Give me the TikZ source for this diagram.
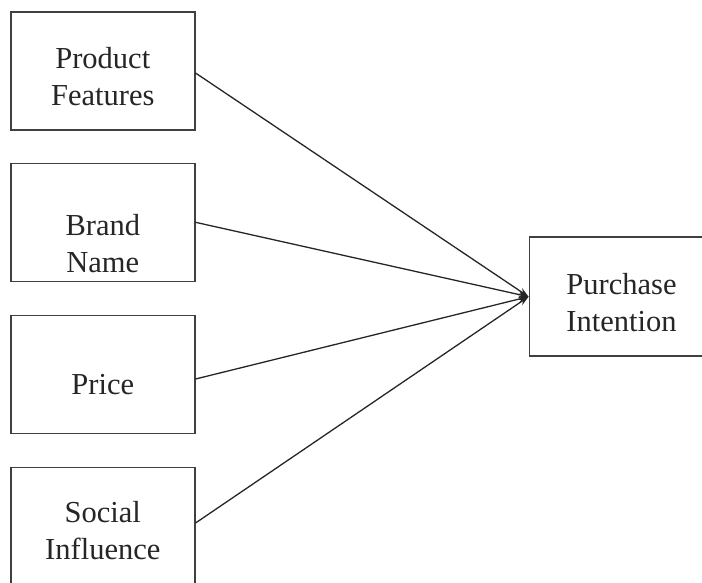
\documentclass[tikz,border=0pt]{standalone}
\usepackage{fontspec}
\setmainfont{Liberation Serif}
\usepackage{tikz}
\usetikzlibrary{arrows.meta}
\tikzstyle{Factor}=[minimum width=184pt, minimum height=118pt, fill=white, line width=1.5pt, draw=black!75, shape=rectangle, inner sep=0pt]
\tikzstyle{Outcome}=[minimum width=183pt, minimum height=119pt, fill=white, line width=1.5pt, draw=black!75, shape=rectangle, inner sep=0pt]
\tikzstyle{Label}=[align=center, inner sep=0pt, text=black!85, font=\fontsize{30.5}{37}\selectfont]
\tikzstyle{arrow}=[line width=1.3pt, draw=black!85, -{Stealth[length=10pt,width=7pt]}]
\pgfdeclarelayer{nodelayer}
\pgfdeclarelayer{edgelayer}
\pgfsetlayers{nodelayer, edgelayer, main}

\begin{document}
\begin{tikzpicture}[x=1pt, y=-1pt]
	\useasboundingbox (0, 0) rectangle (702, 582);
	\begin{pgfonlayer}{nodelayer}
		\node [style=Factor] (features) at (102.8, 71) {};
		\node [style=Factor] (brand) at (102.8, 222.3) {};
		\node [style=Factor] (price) at (102.8, 374.5) {};
		\node [style=Factor] (social) at (102.8, 526.5) {};
		\node [style=Outcome] (intention) at (620.8, 296.7) {};
		\node [style=Label] (featurestext) at (102.8, 76.3) {Product\\Features};
		\node [style=Label] (brandtext) at (102.8, 244) {Brand\\Name};
		\node [style=Label] (pricetext) at (102.8, 385) {Price};
		\node [style=Label] (socialtext) at (102.8, 530.6) {Social\\Influence};
		\node [style=Label] (intentiontext) at (621.5, 303) {Purchase\\Intention};
	\end{pgfonlayer}
	\begin{pgfonlayer}{edgelayer}
		\draw [style=arrow] ([yshift=-2pt]features.east) to (intention.west);
		\draw [style=arrow] (brand.east) to (intention.west);
		\draw [style=arrow] ([yshift=-4.5pt]price.east) to (intention.west);
		\draw [style=arrow] ([yshift=3.5pt]social.east) to (intention.west);
	\end{pgfonlayer}
\end{tikzpicture}
\end{document}
